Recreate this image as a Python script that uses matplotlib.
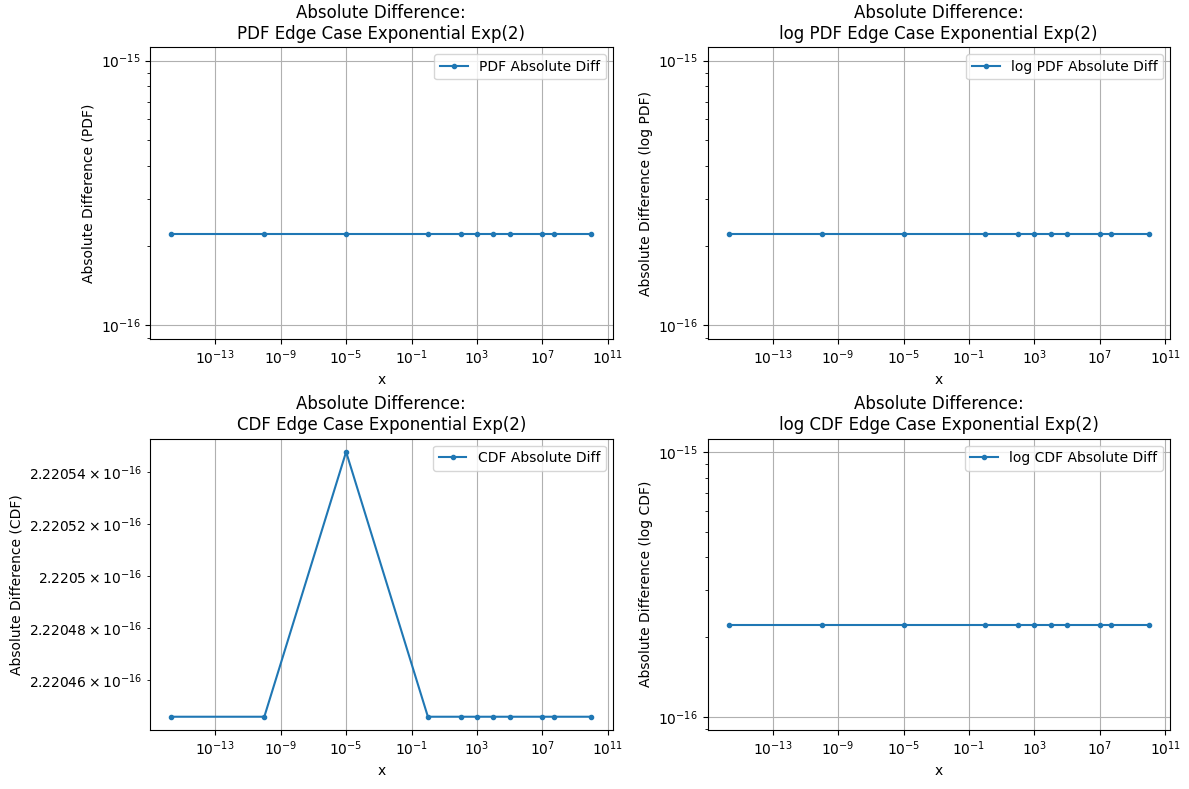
import numpy as np
import matplotlib
matplotlib.use('Agg')
import matplotlib.pyplot as plt

# x values of the edge cases
x = [2e-16, 1e-10, 1e-5, 1.0, 1e2, 1e3, 1e4, 1e5, 1e7, 5e7, 1e10]

# absolute differences
pdf_diff = [2.220446e-16] * 11
logpdf_diff = [2.220446e-16] * 11
cdf_diff = [2.220446e-16, 2.220446e-16, 2.2205479e-16, 2.220446e-16, 2.220446e-16,
            2.220446e-16, 2.220446e-16, 2.220446e-16, 2.220446e-16, 2.220446e-16,
            2.220446e-16]
logcdf_diff = [2.220446e-16] * 11

names = ['PDF', 'log PDF', 'CDF', 'log CDF']
diffs = [pdf_diff, logpdf_diff, cdf_diff, logcdf_diff]

fig, axes = plt.subplots(2, 2, figsize=(11.89, 7.89), dpi=100)
fig.subplots_adjust(left=0.1262, right=0.984, top=0.940, bottom=0.0748,
                    wspace=0.2054, hspace=0.343)

for ax, name, d in zip(axes.flat, names, diffs):
    ax.plot(x, d, marker='.', label=f'{name} Absolute Diff')
    ax.set_xscale('log')
    ax.set_yscale('log')
    ax.set_title(f'Absolute Difference:\n{name} Edge Case Exponential Exp(2)')
    ax.set_xlabel('x')
    ax.set_ylabel(f'Absolute Difference ({name})')
    ax.legend(loc='upper right')
    ax.grid(True)

plt.savefig('out.png')
